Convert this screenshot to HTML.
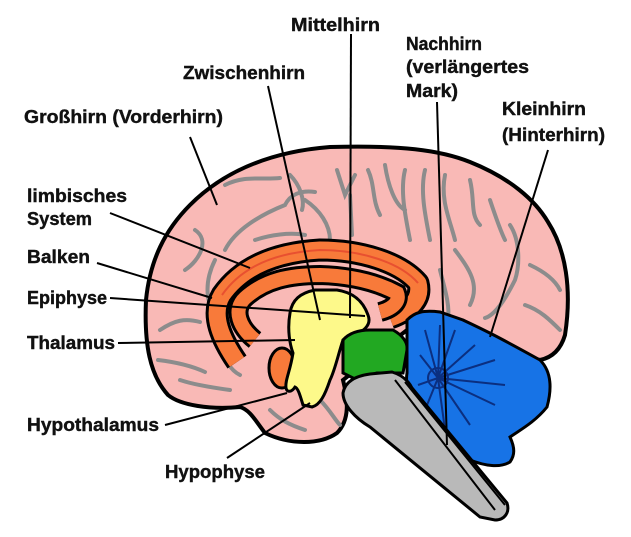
<!DOCTYPE html>
<html><head><meta charset="utf-8"><style>
html,body{margin:0;padding:0;background:#fff;}
svg{display:block}
text{font-family:"Liberation Sans Narrow","Liberation Sans",sans-serif;font-weight:bold;font-size:18px;fill:#111;stroke:#111;stroke-width:0.4}
</style></head><body>
<svg width="631" height="537" viewBox="0 0 631 537" xmlns="http://www.w3.org/2000/svg">
<path d="M330,147 C400,145 440,150 470,162 C510,178 535,200 548,222 C566,250 572,290 565,335 C560,352 550,358 540,360 L407,330 L343,380 C348,400 350,420 337,433 C320,445 290,445 265,433 C255,420 250,410 240,407 C210,410 180,405 168,395 C150,375 144,345 146,300 C150,260 165,230 190,205 C220,175 265,152 330,147 Z" fill="#f9b9b6" stroke="#000" stroke-width="4"/>
<g fill="none" stroke="#8c8c8c" stroke-width="4" stroke-linecap="round">
<path d="M195,230 C210,240 200,260 185,270"/>
<path d="M225,185 C245,175 260,180 280,178"/>
<path d="M225,250 C235,230 260,215 285,205 C290,195 300,190 315,192"/>
<path d="M255,240 C270,235 290,232 305,235"/>
<path d="M290,175 C300,185 305,200 302,210"/>
<path d="M305,200 C320,210 330,225 330,240"/>
<path d="M337,170 L345,195 L355,175"/>
<path d="M350,195 L352,235"/>
<path d="M368,170 C375,185 372,200 380,215"/>
<path d="M385,165 C388,185 395,205 405,210"/>
<path d="M405,170 C400,190 405,215 410,240"/>
<path d="M425,170 C420,190 425,215 430,240"/>
<path d="M445,175 C440,200 450,220 455,240"/>
<path d="M470,180 C475,200 470,215 480,225"/>
<path d="M490,200 C495,215 500,230 505,240"/>
<path d="M510,225 C520,240 520,265 515,280 C505,300 495,315 485,318"/>
<path d="M455,250 C470,270 480,285 470,305"/>
<path d="M440,270 C445,290 450,305 448,320"/>
<path d="M530,265 C545,272 555,280 560,290"/>
<path d="M525,305 C540,310 550,320 560,330"/>
<path d="M160,330 C175,320 185,318 200,322"/>
<path d="M158,360 C175,362 190,365 205,372"/>
<path d="M180,380 C195,385 215,388 230,390"/>
<path d="M220,345 C225,360 230,370 240,375"/>
<path d="M270,410 C280,420 290,425 305,430"/>
<path d="M320,400 C330,410 335,420 340,425"/>
<path d="M215,260 C205,280 205,300 215,315"/>
<path d="M370,260 C380,265 390,270 400,268"/>
</g>
<path d="M237,362 C222,340 210,315 222,295 C245,262 285,252 320,250 C360,250 400,262 418,283 C422,298 412,310 390,318" fill="none" stroke="#000" stroke-width="23" stroke-linejoin="round"/>
<path d="M237,362 C222,340 210,315 222,295 C245,262 285,252 320,250 C360,250 400,262 418,283 C422,298 412,310 390,318" fill="none" stroke="#f87a3a" stroke-width="17" stroke-linejoin="round"/>
<path d="M255,340 C240,328 232,310 245,298 C265,280 290,275 320,275 C355,276 380,284 397,293 C400,300 395,308 380,312" fill="none" stroke="#000" stroke-width="20"/>
<path d="M255,340 C240,328 232,310 245,298 C265,280 290,275 320,275 C355,276 380,284 397,293 C400,300 395,308 380,312" fill="none" stroke="#f87a3a" stroke-width="14"/>
<path d="M222,295 C245,262 285,252 320,250 C360,250 400,262 418,283" fill="none" stroke="#e85030" stroke-width="2"/>
<ellipse cx="282" cy="368" rx="13" ry="20" fill="#f87a3a" stroke="#000" stroke-width="3"/>
<path d="M290,313 C292,300 300,293 315,290 L337,290 C350,292 362,298 368,315 C372,325 365,332 343,340 C338,355 335,370 330,380 C325,395 320,405 312,407 L303,405 C300,395 298,388 295,387 C292,392 287,393 286,388 C285,380 290,372 293,353 C290,345 287,330 290,313 Z" fill="#fdf98a" stroke="#000" stroke-width="3"/>
<path d="M343,340 C350,332 360,330 370,330 L393,330 C402,335 408,342 407,350 L403,373 L377,373 C370,375 362,378 357,380 L343,373 Z" fill="#22a822" stroke="#000" stroke-width="3"/>
<path d="M407,320 C415,312 423,310 440,312 L463,320 C480,328 495,335 540,360 C550,370 553,385 547,407 C535,422 520,430 510,437 C515,448 515,455 510,462 C500,468 485,466 470,460 C450,445 430,430 423,417 C410,400 405,385 407,373 Z" fill="#1773e6" stroke="#000" stroke-width="3"/>
<g stroke="#0b2f80" stroke-width="2" fill="none">
<circle cx="438" cy="378" r="10" fill="#1a66d9"/>
<path d="M438,378 L425,330 M438,378 L440,325 M438,378 L455,330 M438,378 L475,345 M438,378 L495,360 M438,378 L505,385 M438,378 L495,405 M438,378 L470,425 M438,378 L445,430 M438,378 L425,410 M438,378 L418,385 M438,378 L420,355"/>
</g>
<path d="M343,393 C345,382 355,376 370,374 L392,372 C402,375 408,380 412,388 L507,503 C510,512 505,520 495,520 L480,517 L370,427 C355,418 343,405 343,393 Z" fill="#b9b9b9" stroke="#000" stroke-width="3"/>
<path d="M395,380 L495,510 M405,382 L505,505" stroke="#000" stroke-width="2" fill="none"/>
<g stroke="#000" stroke-width="2" fill="none">
<path d="M351,34 L350,318"/>
<path d="M268,86 L320,320"/>
<path d="M437,102 L447,445"/>
<path d="M548,150 L490,337"/>
<path d="M190,137 L217,205"/>
<path d="M110,213 L250,268"/>
<path d="M97,263 L212,298"/>
<path d="M110,298 L365,316"/>
<path d="M118,343 L295,340"/>
<path d="M165,425 L287,393"/>
<path d="M227,458 L310,403"/>
</g>
<text x="291" y="31" textLength="89" lengthAdjust="spacingAndGlyphs">Mittelhirn</text>
<text x="183" y="79" textLength="122" lengthAdjust="spacingAndGlyphs">Zwischenhirn</text>
<text x="406" y="50" textLength="76" lengthAdjust="spacingAndGlyphs">Nachhirn</text>
<text x="406" y="73" textLength="123" lengthAdjust="spacingAndGlyphs">(verlängertes</text>
<text x="406" y="97" textLength="52" lengthAdjust="spacingAndGlyphs">Mark)</text>
<text x="502" y="115" textLength="84" lengthAdjust="spacingAndGlyphs">Kleinhirn</text>
<text x="502" y="141" textLength="103" lengthAdjust="spacingAndGlyphs">(Hinterhirn)</text>
<text x="24" y="123" textLength="199" lengthAdjust="spacingAndGlyphs">Großhirn (Vorderhirn)</text>
<text x="27" y="202" textLength="100" lengthAdjust="spacingAndGlyphs">limbisches</text>
<text x="27" y="225" textLength="65" lengthAdjust="spacingAndGlyphs">System</text>
<text x="27" y="263" textLength="63" lengthAdjust="spacingAndGlyphs">Balken</text>
<text x="27" y="304" textLength="80" lengthAdjust="spacingAndGlyphs">Epiphyse</text>
<text x="27" y="349" textLength="88" lengthAdjust="spacingAndGlyphs">Thalamus</text>
<text x="27" y="431" textLength="132" lengthAdjust="spacingAndGlyphs">Hypothalamus</text>
<text x="165" y="478" textLength="100" lengthAdjust="spacingAndGlyphs">Hypophyse</text>
</svg>
</body></html>
